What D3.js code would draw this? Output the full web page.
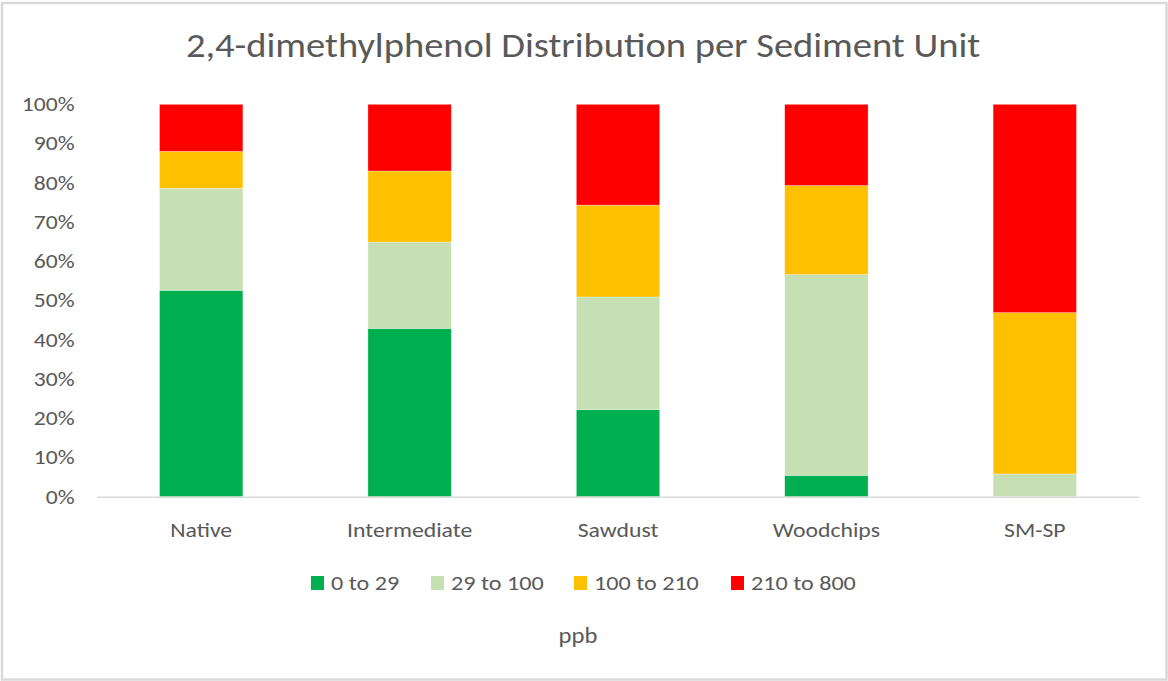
<!DOCTYPE html>
<html>
<head>
<meta charset="utf-8">
<script src="https://cdn.jsdelivr.net/npm/d3@7"></script>
<style>
    body { margin: 0; background: #fff; }
    svg { display: block; }
    text { font-family: Calibri, Carlito, "Liberation Sans Narrow", "Open Sans", sans-serif; fill: #595959; }
</style>
</head>
<body>
<div id="main_area"></div>
<script>
// 数据
var categories = ["Native", "Intermediate", "Sawdust", "Woodchips", "SM-SP"];
var seriesNames = ["0 to 29", "29 to 100", "100 to 210", "210 to 800"];
var s0to29 = [52.6, 42.9, 22.2, 5.45, 0];
var s29to100 = [26.0, 22.0, 28.7, 51.15, 5.8];
var s100to210 = [9.4, 18.1, 23.4, 22.7, 41.1];
var s210to800 = [12.0, 17.0, 25.7, 20.7, 53.1];
var yTicks = [0, 0.1, 0.2, 0.3, 0.4, 0.5, 0.6, 0.7, 0.8, 0.9, 1.0];
var colors = ["#00b050", "#c6e0b4", "#ffc000", "#ff0000"];

var W = 1168, H = 681;
var plot = {left: 97, right: 1139, top: 104.3, bottom: 496.7};

var svg = d3.select("div#main_area")
    .append("svg")
    .attr("width", W)
    .attr("height", H);

// 外框
svg.append("rect")
    .attr("x", 2).attr("y", 3)
    .attr("width", W - 3.5).attr("height", H - 4.5)
    .attr("fill", "#fff")
    .attr("stroke", "#d9d9d9")
    .attr("stroke-width", 2.5);

// 标题 (横向略微拉伸, 和原图一致)
svg.append("text")
    .attr("transform", "translate(583,57) scale(1.1,1)")
    .attr("text-anchor", "middle")
    .style("font-size", "35px")
    .text("2,4-dimethylphenol  Distribution per Sediment Unit");

var rows = categories.map(function (c, i) {
    return {cat: c, "0 to 29": s0to29[i], "29 to 100": s29to100[i],
        "100 to 210": s100to210[i], "210 to 800": s210to800[i]};
});
var series = d3.stack().keys(seriesNames).offset(d3.stackOffsetExpand)(rows);

var xScale = d3.scaleBand()
    .domain(categories)
    .range([plot.left, plot.right])
    .paddingInner(0.6)
    .paddingOuter(0.3);

var yScale = d3.scaleLinear()
    .domain([0, 1])
    .range([plot.bottom, plot.top]);

// 柱子
svg.append("g")
    .selectAll("g")
    .data(series)
    .enter()
    .append("g")
    .attr("fill", function (d, i) { return colors[i]; })
    .selectAll("rect")
    .data(function (d) { return d; })
    .enter()
    .append("rect")
    .attr("x", function (d) { return xScale(d.data.cat); })
    .attr("y", function (d) { return yScale(d[1]); })
    .attr("width", xScale.bandwidth())
    .attr("height", function (d) { return yScale(d[0]) - yScale(d[1]); })
    .attr("stroke", "#fff")
    .attr("stroke-opacity", 0.5)
    .attr("stroke-width", 0.6);

// x轴
var xAxis = svg.append("g")
    .attr("transform", "translate(0," + plot.bottom + ")")
    .call(d3.axisBottom(xScale).tickSize(0).tickPadding(25.5));
xAxis.select(".domain").attr("stroke", "#d9d9d9").attr("stroke-width", 1.5);
xAxis.selectAll("text")
    .style("font-size", "21px")
    .attr("fill", "#595959")
    .attr("transform", "scale(1.13,1)");

// y轴
var yAxis = svg.append("g")
    .attr("transform", "translate(" + 74.5 + ",0)")
    .call(d3.axisLeft(yScale).tickValues(yTicks).tickFormat(d3.format(".0%")).tickSize(0).tickPadding(0));
yAxis.select(".domain").remove();
yAxis.selectAll("text")
    .style("font-size", "20px")
    .attr("fill", "#595959")
    .attr("transform", "scale(1.18,1)");

// 图例
var legendX = [311, 431, 574, 731];
var legend = svg.append("g")
    .selectAll("g")
    .data(seriesNames)
    .enter()
    .append("g")
    .attr("transform", function (d, i) { return "translate(" + legendX[i] + ",576)"; });
legend.append("rect")
    .attr("width", 13)
    .attr("height", 14)
    .attr("fill", function (d, i) { return colors[i]; });
legend.append("text")
    .attr("transform", "translate(20,7) scale(1.15,1)")
    .attr("dy", "0.35em")
    .style("font-size", "21px")
    .text(function (d) { return d; });

// x轴标题
svg.append("text")
    .attr("transform", "translate(578,643) scale(1.12,1)")
    .attr("text-anchor", "middle")
    .style("font-size", "22px")
    .text("ppb");
</script>
</body>
</html>
